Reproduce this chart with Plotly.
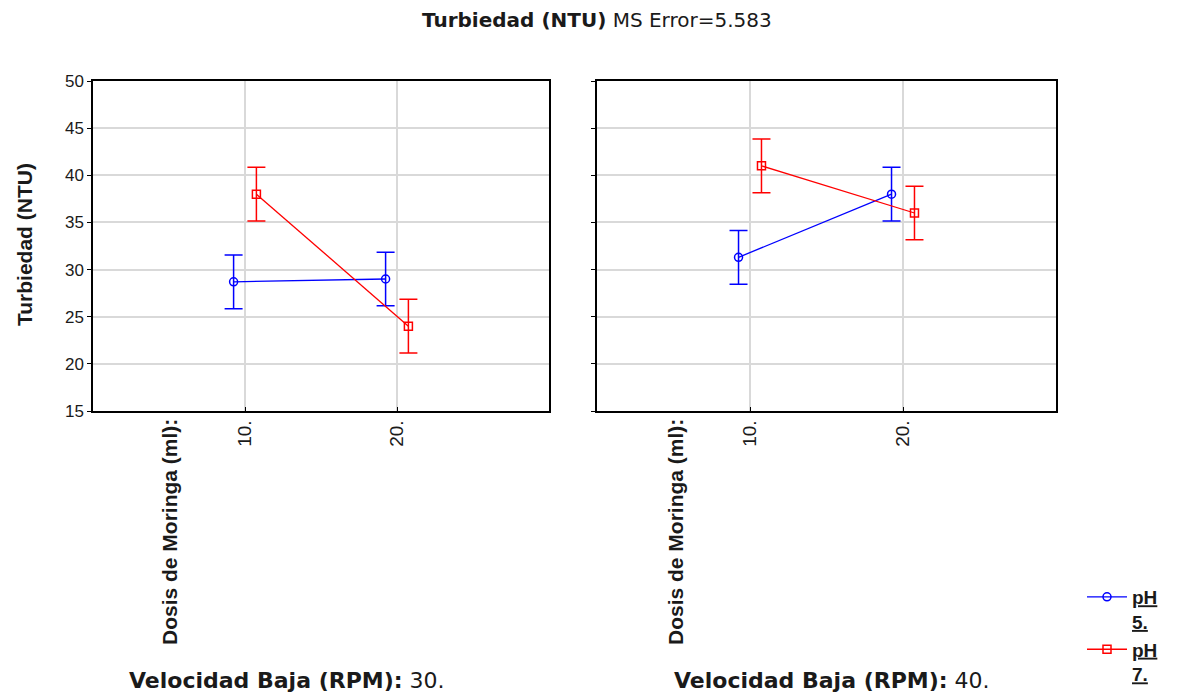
import plotly.graph_objects as go

# Data
dosis = [10, 20]
dosis_labels = ["10.", "20."]
velocidades = ["30.", "40."]
ph_levels = ["5.", "7."]
# means per velocidad / pH, at each dosis
means_v30_ph5 = [28.7, 29.0]
means_v30_ph7 = [38.0, 24.0]
means_v40_ph5 = [31.3, 38.0]
means_v40_ph7 = [41.0, 36.0]
ci_half = 2.85
ms_error = "5.583"

offset = 0.75
colors = {"5.": "#0000ff", "7.": "#ff0000"}
symbols = {"5.": "circle-open", "7.": "square-open"}

fig = go.Figure()

series = [
    (0, "5.", means_v30_ph5),
    (0, "7.", means_v30_ph7),
    (1, "5.", means_v40_ph5),
    (1, "7.", means_v40_ph7),
]
for panel, ph, vals in series:
    xs = [d + (-offset if ph == "5." else offset) for d in dosis]
    fig.add_trace(go.Scatter(
        x=xs, y=vals, mode="lines+markers",
        name=f"<b><u>pH</u></b><br><b><u>{ph}</u></b>",
        legendgroup=ph, showlegend=(panel == 1),
        line=dict(color=colors[ph], width=1.3),
        marker=dict(symbol=symbols[ph], size=8, color=colors[ph], line=dict(width=1.5, color=colors[ph])),
        error_y=dict(type="constant", value=ci_half, color=colors[ph], thickness=1.5, width=9),
        xaxis="x" if panel == 0 else "x2", yaxis="y" if panel == 0 else "y2",
    ))

TXT = "#1a1a1a"
axis_common = dict(
    range=[0, 30], tickvals=dosis, ticktext=dosis_labels, tickangle=-90,
    showgrid=True, gridcolor="#d9d9d9", gridwidth=1.5,
    showline=True, linecolor="black", linewidth=1.5, mirror=True,
    ticks="inside", ticklen=4, tickcolor="black",
    tickfont=dict(size=19, color=TXT), zeroline=False, automargin=False,
)
yaxis_common = dict(
    range=[15, 50], dtick=5, showgrid=True, gridcolor="#d9d9d9", gridwidth=1.5,
    showline=True, linecolor="black", linewidth=1.5, mirror=True,
    ticks="outside", ticklen=4, tickcolor="black",
    tickfont=dict(size=17, color=TXT), zeroline=False, automargin=False,
)

OFF = 8  # page body margin
W, H = 1184 - OFF, 694 - OFF
L, R, T, B = 93, 1056, 81, 411  # plot area in page px
ml, mt = L - OFF, T - OFF
mr = W - (R - OFF)
mb = H - (B - OFF)
pw = R - L
ph_ = B - T

def px_x(p):
    return (p - L) / pw

def px_y(p):
    return (B - p) / ph_

fig.update_layout(
    width=W, height=H,
    margin=dict(l=ml, r=mr, t=mt, b=mb, autoexpand=False),
    paper_bgcolor="white", plot_bgcolor="white",
    font=dict(family="Liberation Sans, Arial, sans-serif", color=TXT),
    xaxis=dict(domain=[0, px_x(549)], anchor="y", **axis_common),
    xaxis2=dict(domain=[px_x(597), 1], anchor="y2", **axis_common),
    yaxis=dict(domain=[0, 1], anchor="x", **yaxis_common),
    yaxis2=dict(domain=[0, 1], anchor="x2", showticklabels=False,
                **{k: v for k, v in yaxis_common.items() if k != "tickfont"}),
    legend=dict(x=px_x(1082), y=px_y(578), xanchor="left", yanchor="top",
                font=dict(size=19, color=TXT), bgcolor="rgba(0,0,0,0)",
                tracegroupgap=0, itemwidth=40, valign="top"),
    showlegend=True,
)

ann = []
ann.append(dict(text=f"<b>Turbiedad (NTU)</b> MS Error={ms_error}", x=px_x(597), y=px_y(20),
                xref="paper", yref="paper", xanchor="center", yanchor="middle", showarrow=False,
                font=dict(size=20, family="DejaVu Sans, sans-serif")))
ann.append(dict(text="<b>Turbiedad (NTU)</b>", x=px_x(24), y=px_y(245), xref="paper", yref="paper",
                xanchor="center", yanchor="middle", showarrow=False, textangle=-90,
                font=dict(size=21)))
for i, (dx, vx) in enumerate([(169, 287), (675, 832)]):
    ann.append(dict(text="<b>Dosis de Moringa (ml):</b>", x=px_x(dx), y=px_y(417),
                    xref="paper", yref="paper", xanchor="center", yanchor="top", showarrow=False,
                    textangle=-90, font=dict(size=21)))
    ann.append(dict(text=f"<b>Velocidad Baja (RPM):</b> {velocidades[i]}", x=px_x(vx), y=px_y(680),
                    xref="paper", yref="paper", xanchor="center", yanchor="middle", showarrow=False,
                    font=dict(size=22, family="DejaVu Sans, sans-serif")))
fig.update_layout(annotations=ann)

fig.write_html("out.html")
